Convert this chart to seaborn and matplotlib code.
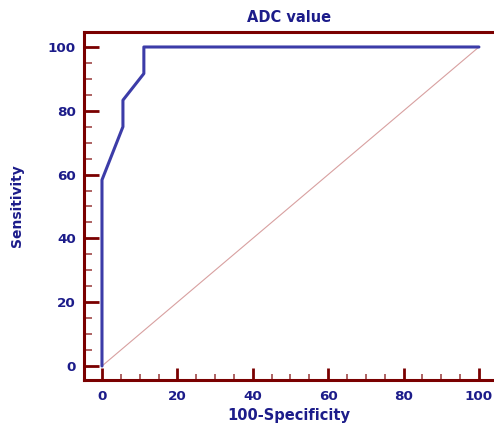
import matplotlib
matplotlib.use("Agg")
import matplotlib.pyplot as plt
import seaborn as sns
import numpy as np
from matplotlib.ticker import MultipleLocator

# ROC data (100-Specificity, Sensitivity)
fpr = [0.0, 0.0, 5.56, 5.56, 11.11, 11.11, 100.0]
tpr = [0.0, 58.33, 75.0, 83.33, 91.67, 100.0, 100.0]
diag_x = [0, 100]
diag_y = [0, 100]
title = "ADC value"
xlabel = "100-Specificity"
ylabel = "Sensitivity"

sns.set_style("white")
plt.rcParams['font.family'] = ['DejaVu Sans']

navy = "#1c1c8a"
spine_c = "#7a0000"
minor_c = "#a04848"

fig = plt.figure(figsize=(4.94, 4.25), dpi=100)
ax = fig.add_axes([84/494, 45/425, 410/494, 348/425])

sns.lineplot(x=diag_x, y=diag_y, ax=ax, color="#d8a0a0", linewidth=0.8, sort=False, estimator=None)
sns.lineplot(x=fpr, y=tpr, ax=ax, color="#3c3ca8", linewidth=2.2, sort=False, estimator=None)

ax.set_xlim(-4.77, 104.0)
ax.set_ylim(-4.39, 104.7)

ax.xaxis.set_major_locator(MultipleLocator(20))
ax.xaxis.set_minor_locator(MultipleLocator(5))
ax.yaxis.set_major_locator(MultipleLocator(20))
ax.yaxis.set_minor_locator(MultipleLocator(5))

for s in ["left", "bottom", "top"]:
    ax.spines[s].set_color(spine_c)
    ax.spines[s].set_linewidth(2.2)
ax.spines["right"].set_visible(False)

ax.tick_params(axis="x", which="major", direction="in", length=8.6, width=2.0, color=spine_c,
               labelcolor=navy, pad=7, bottom=True, top=False)
ax.tick_params(axis="x", which="minor", direction="in", length=4.3, width=1.2, color=minor_c,
               bottom=True, top=False)
ax.tick_params(axis="y", which="major", direction="in", length=10.8, width=2.0, color=spine_c,
               labelcolor=navy, pad=6, left=True, right=False)
ax.tick_params(axis="y", which="minor", direction="in", length=5.8, width=1.2, color=minor_c,
               left=True, right=False)

for lab in ax.get_xticklabels() + ax.get_yticklabels():
    lab.set_fontweight("bold")
    lab.set_fontsize(9.7)

ax.set_title(title, color=navy, fontweight="bold", fontsize=10.5, pad=7)
ax.set_xlabel(xlabel, color=navy, fontweight="bold", fontsize=10.5, labelpad=4)
ax.set_ylabel(ylabel, color=navy, fontweight="bold", fontsize=10, labelpad=17)

fig.savefig("out.png", dpi=100)
